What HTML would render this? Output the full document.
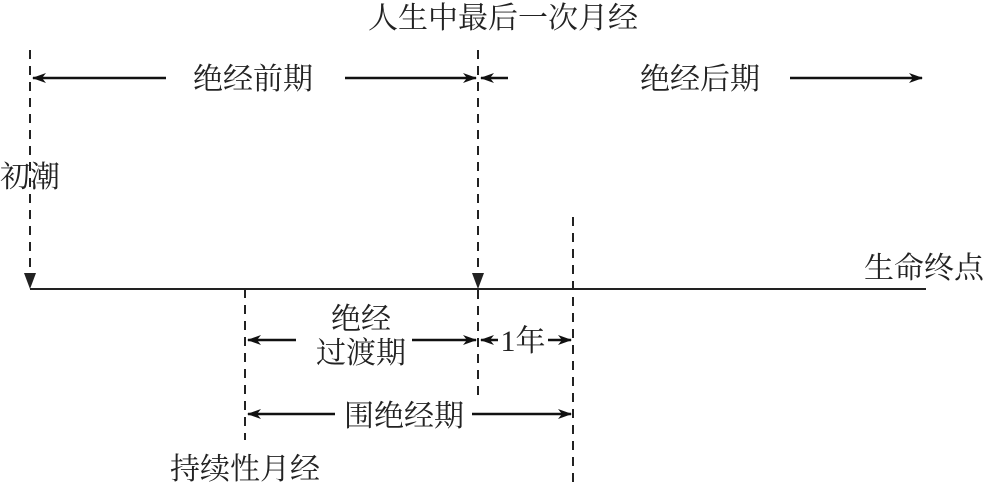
<!DOCTYPE html>
<html><head><meta charset="utf-8"><style>
html,body{margin:0;padding:0;background:#fff;width:989px;height:486px;overflow:hidden}
svg text{font-family:"Liberation Serif","Noto Serif CJK SC",serif;font-size:30px;fill:#222}
</style></head><body>
<svg width="989" height="486" viewBox="0 0 989 486" xmlns="http://www.w3.org/2000/svg">
<defs>
<marker id="a" markerWidth="14" markerHeight="10" refX="13" refY="5" orient="auto" markerUnits="userSpaceOnUse">
<path d="M0,0 L14,5 L0,10 L4,5 Z" fill="#111"/></marker>
</defs>
<g stroke="#222" stroke-width="2" stroke-dasharray="9,7" fill="none">
<line x1="30" y1="50" x2="30" y2="278"/>
<line x1="478" y1="50" x2="478" y2="395"/>
<line x1="573" y1="217" x2="573" y2="486"/>
<line x1="245" y1="289" x2="245" y2="440"/>
</g>
<line x1="30" y1="289" x2="926" y2="289" stroke="#222" stroke-width="2"/>
<path d="M24,273 L36,273 L30,289 Z" fill="#222"/>
<path d="M472,273 L484,273 L478,289 Z" fill="#222"/>
<g stroke="#111" stroke-width="2.5" marker-end="url(#a)">
<line x1="166" y1="78" x2="33" y2="78"/>
<line x1="345" y1="78" x2="476" y2="78"/>
<line x1="508" y1="78" x2="481" y2="78"/>
<line x1="790" y1="78" x2="922" y2="78"/>
<line x1="296" y1="340" x2="248" y2="340"/>
<line x1="412" y1="340" x2="476" y2="340"/>
<line x1="498" y1="340" x2="481" y2="340"/>
<line x1="548" y1="340" x2="571" y2="340"/>
<line x1="335" y1="414" x2="248" y2="414"/>
<line x1="472" y1="414" x2="571" y2="414"/>
</g>
<text x="503" y="28" text-anchor="middle">人生中最后一次月经</text>
<text x="253" y="89" text-anchor="middle">绝经前期</text>
<text x="700" y="89" text-anchor="middle">绝经后期</text>
<text x="0" y="187">初潮</text>
<text x="924" y="278" text-anchor="middle">生命终点</text>
<text x="361" y="329" text-anchor="middle">绝经</text>
<text x="361" y="363" text-anchor="middle">过渡期</text>
<text x="523" y="351" text-anchor="middle">1年</text>
<text x="404" y="426" text-anchor="middle">围绝经期</text>
<text x="245" y="479" text-anchor="middle">持续性月经</text>
</svg>
</body></html>
